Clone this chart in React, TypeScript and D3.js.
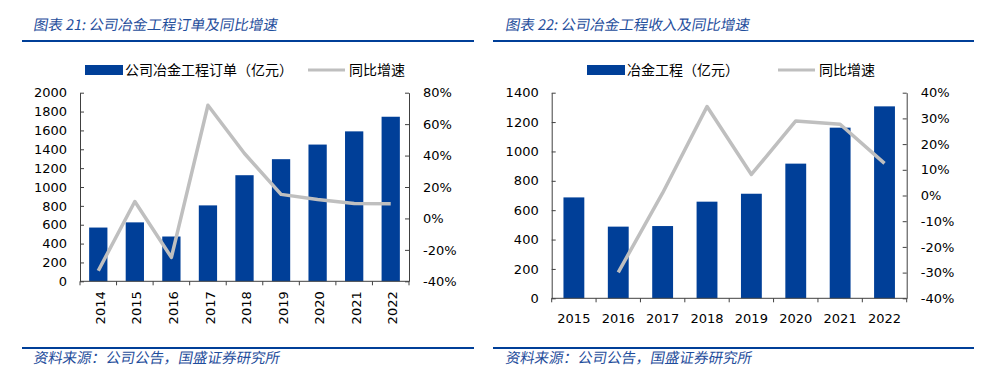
import { useEffect, useRef } from "react";
import * as d3 from "d3";

// chart 21: orders
const orderYears = ["2014", "2015", "2016", "2017", "2018", "2019", "2020", "2021", "2022"];
const orderValues = [570, 625, 475, 805, 1125, 1295, 1450, 1590, 1745];
const orderGrowth = [-33.3, 10.8, -24.8, 72, 41.3, 15.3, 12, 9.5, 9.3];
const orderTicks = [0, 200, 400, 600, 800, 1000, 1200, 1400, 1600, 1800, 2000];
const orderPctTicks = [-40, -20, 0, 20, 40, 60, 80];

// chart 22: revenue
const revYears = ["2015", "2016", "2017", "2018", "2019", "2020", "2021", "2022"];
const revValues = [687, 488, 492, 658, 712, 917, 1162, 1307];
const revGrowth: (number | null)[] = [null, -29.9, 1.0, 34.6, 8.2, 29, 27.7, 12.5];
const revTicks = [0, 200, 400, 600, 800, 1000, 1200, 1400];
const revPctTicks = [-40, -30, -20, -10, 0, 10, 20, 30, 40];

const BLUE = "#003f98";
const GRAY = "#bfbfbf";
const TITLE_BLUE = "#1f4e9c";
const NUM_FONT = "'DejaVu Sans', Verdana, sans-serif";
const CJK_FONT = "'Noto Sans CJK SC', sans-serif";
const NUM_SIZE = 13;

type PanelCfg = {
  title: string;
  titleX: number;
  lineX: [number, number];
  legendLabel: string;
  legendRectX: number;
  legendLineX: number;
  years: string[];
  values: number[];
  growth: (number | null)[];
  yTicks: number[];
  pctTicks: number[];
  left: number;
  right: number;
  top: number;
  bottom: number;
  padInner: number;
  rotate: boolean;
};

const panels: PanelCfg[] = [
  {
    title: "图表 21:  公司冶金工程订单及同比增速",
    titleX: 33,
    lineX: [22, 474],
    legendLabel: "公司冶金工程订单（亿元）",
    legendRectX: 85,
    legendLineX: 308,
    years: orderYears,
    values: orderValues,
    growth: orderGrowth,
    yTicks: orderTicks,
    pctTicks: orderPctTicks,
    left: 80,
    right: 409,
    top: 92.7,
    bottom: 281.3,
    padInner: 0.5,
    rotate: true,
  },
  {
    title: "图表 22:  公司冶金工程收入及同比增速",
    titleX: 505,
    lineX: [493, 974],
    legendLabel: "冶金工程（亿元）",
    legendRectX: 587,
    legendLineX: 778,
    years: revYears,
    values: revValues,
    growth: revGrowth,
    yTicks: revTicks,
    pctTicks: revPctTicks,
    left: 551.7,
    right: 906.7,
    top: 92.7,
    bottom: 298.3,
    padInner: 0.53,
    rotate: false,
  },
];

function drawPanel(svg: d3.Selection<SVGSVGElement, unknown, null, undefined>, p: PanelCfg) {
  const g = svg.append("g");

  // title + rules
  g.append("text")
    .attr("x", p.titleX)
    .attr("y", 30)
    .attr("fill", TITLE_BLUE)
    .attr("font-family", CJK_FONT)
    .attr("font-size", 14.5)
    .attr("transform", `skewX(-10) translate(${30 * 0.176},0)`)
    .text(p.title);
  g.append("line")
    .attr("x1", p.lineX[0]).attr("x2", p.lineX[1])
    .attr("y1", 41).attr("y2", 41)
    .attr("stroke", BLUE).attr("stroke-width", 2.2);
  g.append("line")
    .attr("x1", p.lineX[0]).attr("x2", p.lineX[1])
    .attr("y1", 348).attr("y2", 348)
    .attr("stroke", BLUE).attr("stroke-width", 2.2);
  g.append("text")
    .attr("x", p.titleX)
    .attr("y", 363)
    .attr("fill", TITLE_BLUE)
    .attr("font-family", CJK_FONT)
    .attr("font-size", 14.5)
    .attr("transform", `skewX(-10) translate(${363 * 0.176},0)`)
    .text("资料来源：公司公告，国盛证券研究所");

  // legend
  g.append("rect")
    .attr("x", p.legendRectX).attr("y", 65)
    .attr("width", 38).attr("height", 10)
    .attr("fill", BLUE);
  g.append("text")
    .attr("x", p.legendRectX + 40).attr("y", 75)
    .attr("font-family", CJK_FONT).attr("font-size", 14)
    .text(p.legendLabel);
  g.append("line")
    .attr("x1", p.legendLineX).attr("x2", p.legendLineX + 37)
    .attr("y1", 70).attr("y2", 70)
    .attr("stroke", GRAY).attr("stroke-width", 3);
  g.append("text")
    .attr("x", p.legendLineX + 41).attr("y", 75)
    .attr("font-family", CJK_FONT).attr("font-size", 14)
    .text("同比增速");

  // scales
  const x = d3.scaleBand<string>()
    .domain(p.years)
    .range([p.left, p.right])
    .paddingInner(p.padInner)
    .paddingOuter(p.padInner / 2);
  const y = d3.scaleLinear()
    .domain([0, d3.max(p.yTicks)!])
    .range([p.bottom, p.top]);
  const y2 = d3.scaleLinear()
    .domain([d3.min(p.pctTicks)!, d3.max(p.pctTicks)!])
    .range([p.bottom, p.top]);

  // bars
  g.selectAll(".bar")
    .data(p.years)
    .enter()
    .append("rect")
    .attr("x", (d) => x(d)!)
    .attr("y", (_, i) => y(p.values[i]))
    .attr("width", x.bandwidth())
    .attr("height", (_, i) => p.bottom - y(p.values[i]))
    .attr("fill", BLUE);

  // axes
  const axisColor = "#404040";
  const yAxis = g.append("g")
    .attr("transform", `translate(${p.left},0)`)
    .call(
      d3.axisLeft(y)
        .tickValues(p.yTicks)
        .tickSizeInner(-4)
        .tickSizeOuter(0)
        .tickPadding(13)
        .tickFormat(d3.format("d"))
    );
  const y2Axis = g.append("g")
    .attr("transform", `translate(${p.right},0)`)
    .call(
      d3.axisRight(y2)
        .tickValues(p.pctTicks)
        .tickSizeInner(-4)
        .tickSizeOuter(0)
        .tickPadding(14)
        .tickFormat((d) => `${d}%`)
    );
  [yAxis, y2Axis].forEach((a) => {
    a.select(".domain").attr("stroke", axisColor);
    a.selectAll(".tick line").attr("stroke", axisColor);
    a.selectAll("text")
      .attr("font-family", NUM_FONT)
      .attr("font-size", NUM_SIZE)
      .attr("fill", "#000");
  });

  // category axis
  const step = x.step();
  const gap = step - x.bandwidth();
  g.append("line")
    .attr("x1", p.left).attr("x2", p.right)
    .attr("y1", p.bottom).attr("y2", p.bottom)
    .attr("stroke", axisColor);
  const bounds = p.years
    .map((d) => x(d)! - gap / 2)
    .concat([x(p.years[p.years.length - 1])! + x.bandwidth() + gap / 2]);
  g.selectAll(".xtick")
    .data(bounds)
    .enter()
    .append("line")
    .attr("x1", (d) => d).attr("x2", (d) => d)
    .attr("y1", p.bottom).attr("y2", p.bottom + 4)
    .attr("stroke", axisColor);
  const labels = g.selectAll(".xlabel")
    .data(p.years)
    .enter()
    .append("text")
    .attr("font-family", NUM_FONT)
    .attr("font-size", NUM_SIZE)
    .attr("fill", "#000")
    .attr("dy", "0.35em")
    .text((d) => d);
  if (p.rotate) {
    labels
      .attr("text-anchor", "end")
      .attr("transform", (d) => `translate(${x(d)! + x.bandwidth() / 2 + 2},${p.bottom + 10}) rotate(-90)`);
  } else {
    labels
      .attr("text-anchor", "middle")
      .attr("x", (d) => x(d)! + x.bandwidth() / 2)
      .attr("y", p.bottom + 20);
  }

  // growth line
  const pts = p.years
    .map((d, i) => ({ d, v: p.growth[i] }))
    .filter((o) => o.v !== null) as { d: string; v: number }[];
  const line = d3.line<{ d: string; v: number }>()
    .x((o) => x(o.d)! + x.bandwidth() / 2)
    .y((o) => y2(o.v));
  g.append("path")
    .datum(pts)
    .attr("d", line)
    .attr("fill", "none")
    .attr("stroke", GRAY)
    .attr("stroke-width", 3.5)
    .attr("stroke-linejoin", "round");
}

export default function App() {
  const svgRef = useRef<SVGSVGElement | null>(null);

  useEffect(() => {
    const svg = d3.select(svgRef.current!);
    svg.selectAll("*").remove();
    svg.append("rect").attr("width", 998).attr("height", 384).attr("fill", "#fff");
    panels.forEach((p) => drawPanel(svg as any, p));
  }, []);

  return (
    <svg
      ref={svgRef}
      width={998}
      height={384}
      style={{ position: "absolute", left: 0, top: 0, display: "block" }}
    ></svg>
  );
}
